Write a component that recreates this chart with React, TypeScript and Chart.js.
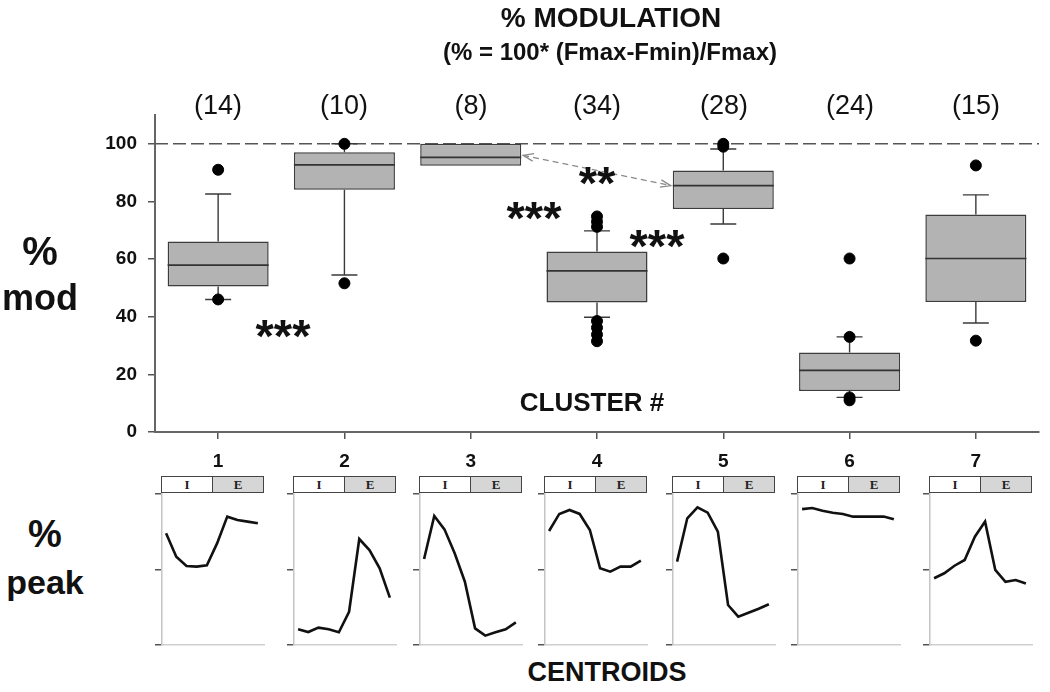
import React, { useEffect, useRef } from "react";
import { Chart, registerables } from "chart.js";

Chart.register(...registerables);

// ---------- data ----------
const clusters = ["1", "2", "3", "4", "5", "6", "7"];
const counts = ["(14)", "(10)", "(8)", "(34)", "(28)", "(24)", "(15)"];
const whiskerLow = [46, 54.5, 92.4, 39.8, 72.2, 12, 37.8];
const q1 = [50.5, 84.1, 92.4, 44.9, 77.4, 14.2, 45.1];
const median = [57.9, 92.7, 95.3, 55.9, 85.5, 21.4, 60.2];
const q3 = [66.1, 97.1, 100, 62.6, 90.7, 27.6, 75.5];
const whiskerHigh = [82.6, 100, 100, 69.8, 98.2, 33, 82.3];
const outlierCluster = ["1", "1", "2", "2", "4", "4", "4", "4", "4", "4", "4", "5", "5", "5", "6", "6", "6", "6", "7", "7"];
const outlierValue = [91, 46, 100, 51.6, 74.8, 73, 71.2, 38.5, 36.2, 33.8, 31.5, 100, 99, 60.2, 60.2, 33, 12, 11, 92.5, 31.7];
const yTicks = [0, 20, 40, 60, 80, 100];
const referenceLine = 100;
const arrowFromCluster = 2;
const arrowFromValue = 96;
const arrowToCluster = 4;
const arrowToValue = 85.5;

const centroid1 = [74, 58.5, 52.3, 51.9, 52.8, 67.3, 85, 82.8, 81.7, 80.6];
const centroid2 = [10.4, 8.6, 11.5, 10.4, 8.4, 22, 70.2, 62.9, 50.8, 31.4];
const centroid3 = [57, 85.4, 76.6, 60.7, 41.9, 11, 6.2, 8.4, 10.4, 15];
const centroid4 = [75.5, 86.8, 89.4, 86.8, 76.2, 50.8, 48.6, 51.9, 51.9, 55.9];
const centroid5 = [55.2, 83.9, 91.2, 87.6, 75, 26.5, 18.8, 21.4, 24, 27];
const centroid6 = [90, 90.7, 88.9, 87.6, 86.8, 85, 85, 85, 85.1, 83.2];
const centroid7 = [44.2, 47.5, 52.5, 56.3, 71.7, 81.7, 49.7, 41.9, 43, 40.8];
const centroids = [centroid1, centroid2, centroid3, centroid4, centroid5, centroid6, centroid7];
const centroidTicks = [0, 50, 100];

// ---------- layout ----------
const FONT = "'Liberation Sans', Arial, Helvetica, sans-serif";
const SERIF = "'Liberation Serif', 'Times New Roman', serif";
const panelLefts = [162, 294, 420, 545, 673, 798, 930];
const clusterCenters = [218, 344, 471, 597, 724, 850, 976];

const boxPlugin = {
  id: "boxPlugin",
  beforeDatasetsDraw(chart: any) {
    const { ctx, chartArea } = chart;
    const y = chart.scales.y;
    const meta = chart.getDatasetMeta(0);
    ctx.save();
    // dashed reference line
    ctx.strokeStyle = "#555";
    ctx.lineWidth = 1.6;
    ctx.setLineDash([13, 5]);
    const ry = y.getPixelForValue(referenceLine);
    ctx.beginPath();
    ctx.moveTo(chartArea.left, ry);
    ctx.lineTo(chartArea.right, ry);
    ctx.stroke();
    ctx.setLineDash([]);
    // whiskers
    ctx.strokeStyle = "#3a3a3a";
    ctx.lineWidth = 1.4;
    meta.data.forEach((el: any, i: number) => {
      const x = el.x;
      const cap = 13;
      if (whiskerHigh[i] > q3[i]) {
        const a = y.getPixelForValue(q3[i]);
        const b = y.getPixelForValue(whiskerHigh[i]);
        ctx.beginPath();
        ctx.moveTo(x, a);
        ctx.lineTo(x, b);
        ctx.moveTo(x - cap, b);
        ctx.lineTo(x + cap, b);
        ctx.stroke();
      }
      if (whiskerLow[i] < q1[i]) {
        const a = y.getPixelForValue(q1[i]);
        const b = y.getPixelForValue(whiskerLow[i]);
        ctx.beginPath();
        ctx.moveTo(x, a);
        ctx.lineTo(x, b);
        ctx.moveTo(x - cap, b);
        ctx.lineTo(x + cap, b);
        ctx.stroke();
      }
    });
    ctx.restore();
  },
  afterDatasetsDraw(chart: any) {
    const { ctx } = chart;
    const y = chart.scales.y;
    const meta = chart.getDatasetMeta(0);
    ctx.save();
    ctx.strokeStyle = "#333";
    ctx.lineWidth = 1.6;
    meta.data.forEach((el: any, i: number) => {
      const my = y.getPixelForValue(median[i]);
      ctx.beginPath();
      ctx.moveTo(el.x - el.width / 2, my);
      ctx.lineTo(el.x + el.width / 2, my);
      ctx.stroke();
    });
    // double-headed dashed arrow
    const a = meta.data[arrowFromCluster];
    const b = meta.data[arrowToCluster];
    const x1 = a.x + a.width / 2 + 2;
    const y1 = y.getPixelForValue(arrowFromValue);
    const x2 = b.x - b.width / 2 - 2;
    const y2 = y.getPixelForValue(arrowToValue);
    ctx.strokeStyle = "#8a8a8a";
    ctx.lineWidth = 1.3;
    ctx.setLineDash([6, 4]);
    ctx.beginPath();
    ctx.moveTo(x1, y1);
    ctx.lineTo(x2, y2);
    ctx.stroke();
    ctx.setLineDash([]);
    const ang = Math.atan2(y2 - y1, x2 - x1);
    const head = (px: number, py: number, dir: number) => {
      const L = 11;
      ctx.beginPath();
      ctx.moveTo(px + L * Math.cos(dir + 0.35), py + L * Math.sin(dir + 0.35));
      ctx.lineTo(px, py);
      ctx.lineTo(px + L * Math.cos(dir - 0.35), py + L * Math.sin(dir - 0.35));
      ctx.stroke();
    };
    head(x1, y1, ang);
    head(x2, y2, ang + Math.PI);
    ctx.restore();
  },
};

function MainChart() {
  const ref = useRef<HTMLCanvasElement | null>(null);
  useEffect(() => {
    if (!ref.current) return;
    const chart = new Chart(ref.current, {
      type: "bar",
      data: {
        labels: clusters,
        datasets: [
          {
            type: "bar",
            data: q1.map((v, i) => [v, q3[i]]),
            backgroundColor: "#b3b3b3",
            borderColor: "#3c3c3c",
            borderWidth: 1.5,
            borderSkipped: false,
            barPercentage: 0.8,
            categoryPercentage: 1,
            order: 2,
          } as any,
          {
            type: "scatter",
            data: outlierCluster.map((c, i) => ({ x: c, y: outlierValue[i] })),
            backgroundColor: "#000",
            borderColor: "#000",
            pointRadius: 5.5,
            order: 1,
          } as any,
        ],
      },
      options: {
        responsive: false,
        animation: false,
        layout: { padding: { top: 115, left: 0, right: 11, bottom: 0 } },
        plugins: { legend: { display: false }, tooltip: { enabled: false } },
        scales: {
          x: {
            type: "category",
            offset: true,
            grid: { offset: false, drawOnChartArea: false, drawTicks: true, tickLength: 7, tickColor: "#555", lineWidth: 1.5 },
            border: { color: "#666", width: 2 },
            ticks: { font: { family: FONT, size: 19, weight: "bold" }, color: "#111", padding: 11 },
            afterFit: (s: any) => {
              s.height = 48;
            },
          },
          y: {
            type: "linear",
            min: 0,
            max: 110,
            grid: { drawOnChartArea: false, drawTicks: true, tickLength: 7, tickColor: "#555", lineWidth: 1.5 },
            border: { color: "#666", width: 2 },
            ticks: { font: { family: FONT, size: 19, weight: "bold" }, color: "#111", padding: 11, stepSize: 20 },
            afterBuildTicks: (s: any) => {
              s.ticks = yTicks.map((v) => ({ value: v }));
            },
            afterFit: (s: any) => {
              s.width = 155;
            },
          },
        },
      } as any,
      plugins: [boxPlugin],
    });
    return () => chart.destroy();
  }, []);
  return (
    <canvas
      ref={ref}
      width={1050}
      height={480}
      style={{ position: "absolute", left: 0, top: 0, width: 1050, height: 480, display: "block" }}
    />
  );
}

function CentroidPanel({ values, left }: { values: number[]; left: number }) {
  const ref = useRef<HTMLCanvasElement | null>(null);
  useEffect(() => {
    if (!ref.current) return;
    const chart = new Chart(ref.current, {
      type: "line",
      data: {
        datasets: [
          {
            data: values.map((v, i) => ({ x: i, y: v })),
            borderColor: "#111",
            borderWidth: 2.6,
            pointRadius: 0,
            tension: 0,
            fill: false,
            clip: false,
          } as any,
        ],
      },
      options: {
        responsive: false,
        animation: false,
        layout: { padding: { top: 24, left: 0, right: 0, bottom: 0 } },
        plugins: { legend: { display: false }, tooltip: { enabled: false } },
        scales: {
          x: {
            type: "linear",
            min: -0.4,
            max: 9.7,
            ticks: { display: false },
            grid: { display: false, drawOnChartArea: false, drawTicks: false },
            border: { display: true, color: "#cfcfcf", width: 1.5 },
            afterFit: (s: any) => {
              s.height = 5;
            },
          },
          y: {
            type: "linear",
            min: 0,
            max: 100,
            ticks: { display: false, stepSize: 50 },
            afterBuildTicks: (s: any) => {
              s.ticks = centroidTicks.map((v) => ({ value: v }));
            },
            grid: { drawOnChartArea: false, drawTicks: true, tickLength: 7, tickColor: "#555", lineWidth: 1.5 },
            border: { color: "#c4c4c4", width: 1.5 },
            afterFit: (s: any) => {
              s.width = 20;
            },
          },
        },
      } as any,
    });
    return () => chart.destroy();
  }, [values]);
  return (
    <>
      <canvas
        ref={ref}
        width={123}
        height={180}
        style={{ position: "absolute", left: left - 20, top: 470, width: 123, height: 180, display: "block" }}
      />
      <div
        style={{
          position: "absolute",
          left: left - 1,
          top: 476,
          width: 103,
          height: 17,
          border: "1.5px solid #444",
          display: "flex",
          boxSizing: "border-box",
          fontFamily: SERIF,
          fontWeight: 700,
          fontSize: 13,
          lineHeight: "15px",
          color: "#222",
        }}
      >
        <div style={{ flex: 1, background: "#fff", textAlign: "center", borderRight: "1.5px solid #444" }}>I</div>
        <div style={{ flex: 1, background: "#d6d6d6", textAlign: "center" }}>E</div>
      </div>
    </>
  );
}

function Txt({ x, y, size, bold = true, children }: any) {
  return (
    <div
      style={{
        position: "absolute",
        left: x,
        top: y,
        transform: "translate(-50%, -50%)",
        fontFamily: FONT,
        fontSize: size,
        fontWeight: bold ? 700 : 400,
        lineHeight: 1,
        whiteSpace: "nowrap",
        color: "#111",
      }}
    >
      {children}
    </div>
  );
}

export default function App() {
  return (
    <div
      style={{
        position: "absolute",
        left: 0,
        top: 0,
        width: 1050,
        height: 692,
        background: "#fff",
        overflow: "hidden",
      }}
    >
      <MainChart />
      <Txt x={611} y={18} size={28}>% MODULATION</Txt>
      <Txt x={610} y={52} size={24}>(% = 100* (Fmax-Fmin)/Fmax)</Txt>
      {counts.map((c, i) => (
        <Txt key={c + i} x={clusterCenters[i]} y={105} size={27} bold={false}>
          {c}
        </Txt>
      ))}
      <Txt x={40} y={251} size={40}>%</Txt>
      <Txt x={40} y={298} size={36}>mod</Txt>
      <Txt x={45} y={534} size={38}>%</Txt>
      <Txt x={45} y={582} size={34}>peak</Txt>
      <Txt x={283} y={335} size={47}>***</Txt>
      <Txt x={534} y={217} size={47}>***</Txt>
      <Txt x={657} y={245} size={47}>***</Txt>
      <Txt x={597} y={182} size={47}>**</Txt>
      <Txt x={592} y={402} size={26}>CLUSTER #</Txt>
      <Txt x={607} y={672} size={27}>CENTROIDS</Txt>
      {centroids.map((v, i) => (
        <CentroidPanel key={i} values={v} left={panelLefts[i]} />
      ))}
    </div>
  );
}
